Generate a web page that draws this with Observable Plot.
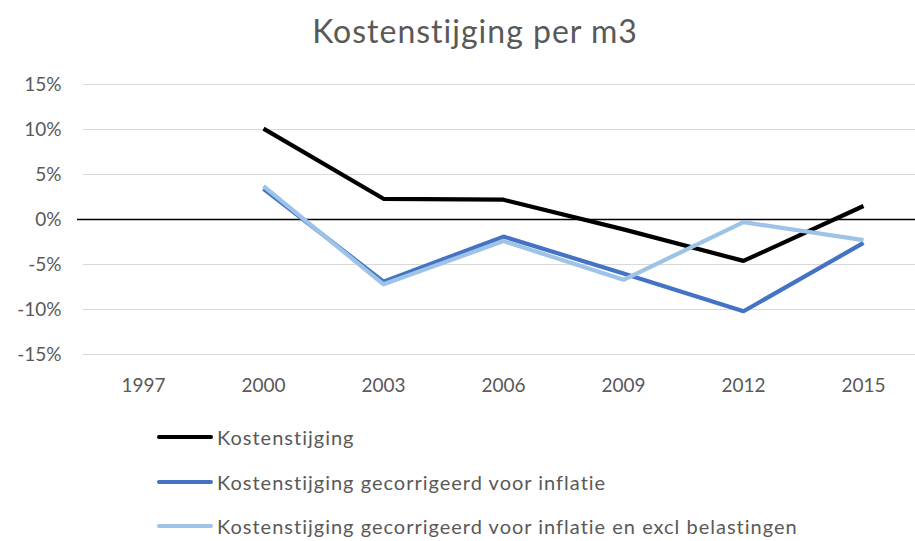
<!DOCTYPE html>
<html>
<head>
<meta charset="utf-8">
<script src="https://cdn.jsdelivr.net/npm/d3@7"></script>
<script src="https://cdn.jsdelivr.net/npm/@observablehq/plot@0.6"></script>
<style>
  html, body { margin: 0; padding: 0; background: #fff; }
  body { width: 915px; height: 541px; overflow: hidden; font-family: Lato, "Open Sans", sans-serif; color: #595959; }
  #title { height: 60px; line-height: 62px; font-size: 32px; letter-spacing: 1px; text-align: center; padding-left: 35px; box-sizing: border-box; width: 915px; }
  #legend { position: absolute; left: 157px; top: 415px; }
  .row { height: 44.5px; display: flex; align-items: center; font-size: 20px; letter-spacing: 1px; }
  .sw { width: 56px; height: 4px; border-radius: 2px; margin-right: 4px; }
</style>
</head>
<body>
<div id="title">Kostenstijging per m3</div>
<div id="chart"></div>
<div id="legend"></div>
<script>
const years = ["1997", "2000", "2003", "2006", "2009", "2012", "2015"];
const kosten = [null, 10.1, 2.3, 2.2, -1.1, -4.6, 1.5];
const inflatie = [null, 3.4, -6.9, -1.9, -6.0, -10.2, -2.6];
const exclBelastingen = [null, 3.7, -7.2, -2.4, -6.7, -0.3, -2.3];
const yTicks = [-15, -10, -5, 0, 5, 10, 15];
const seriesNames = [
  "Kostenstijging",
  "Kostenstijging gecorrigeerd voor inflatie",
  "Kostenstijging gecorrigeerd voor inflatie en excl belastingen"
];
const seriesColors = ["#000000", "#4472c4", "#9dc3e6"];

const allSeries = [kosten, inflatie, exclBelastingen];
const rows = allSeries.map((vals, i) =>
  years.map((year, j) => ({year, value: vals[j], series: seriesNames[i]}))
       .filter(d => d.value != null)
);

const plot = Plot.plot({
  width: 915,
  height: 340,
  marginTop: 24,
  marginBottom: 46,
  marginLeft: 83,
  marginRight: 0,
  style: {fontFamily: "Lato, 'Open Sans', sans-serif", fontSize: "19px", color: "#595959", background: "#fff"},
  x: {type: "point", domain: years, range: [83, 923], padding: 0.5, label: null},
  y: {domain: [-15, 15], ticks: yTicks, label: null},
  marks: [
    Plot.ruleY(yTicks, {stroke: "#d9d9d9", strokeWidth: 1}),
    Plot.ruleY([0], {stroke: "#000", strokeWidth: 1.6, insetLeft: -6}),
    Plot.axisY({ticks: yTicks, tickSize: 0, tickPadding: 22, tickFormat: d => d + "%", fill: "#595959"}),
    Plot.axisX({tickSize: 0, tickPadding: 24, fill: "#595959"}),
    ...rows.map((r, i) => Plot.line(r, {x: "year", y: "value", stroke: seriesColors[i], strokeWidth: 4.2, strokeLinejoin: "miter", strokeLinecap: "butt"}))
  ]
});
document.getElementById("chart").appendChild(plot);

const legend = document.getElementById("legend");
seriesNames.forEach((name, i) => {
  const row = document.createElement("div");
  row.className = "row";
  const sw = document.createElement("span");
  sw.className = "sw";
  sw.style.background = seriesColors[i];
  const t = document.createElement("span");
  t.textContent = name;
  row.appendChild(sw);
  row.appendChild(t);
  legend.appendChild(row);
});
</script>
</body>
</html>
